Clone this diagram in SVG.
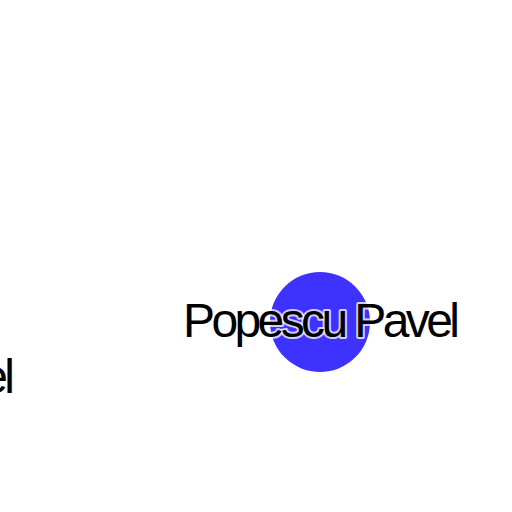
<svg xmlns="http://www.w3.org/2000/svg" width="512" height="512" viewBox="0 0 512 512">
<style>
.lbl{font-family:"Liberation Sans",Arial,sans-serif;font-size:48px;letter-spacing:-3.6px;fill:#000;stroke:#fff;stroke-width:4px;stroke-opacity:0.75;paint-order:stroke;stroke-linejoin:round}
</style>
<rect width="512" height="512" fill="#fff"/>
<g id="edges"></g>
<g id="node1">
<circle cx="320" cy="322" r="50" fill="#3e32ff"/>
<text class="lbl" x="183" y="337">Popescu Pavel</text>
</g>
<g id="node2">
<text class="lbl" x="-262" y="393">Popescu Pavel</text>
</g>
</svg>
